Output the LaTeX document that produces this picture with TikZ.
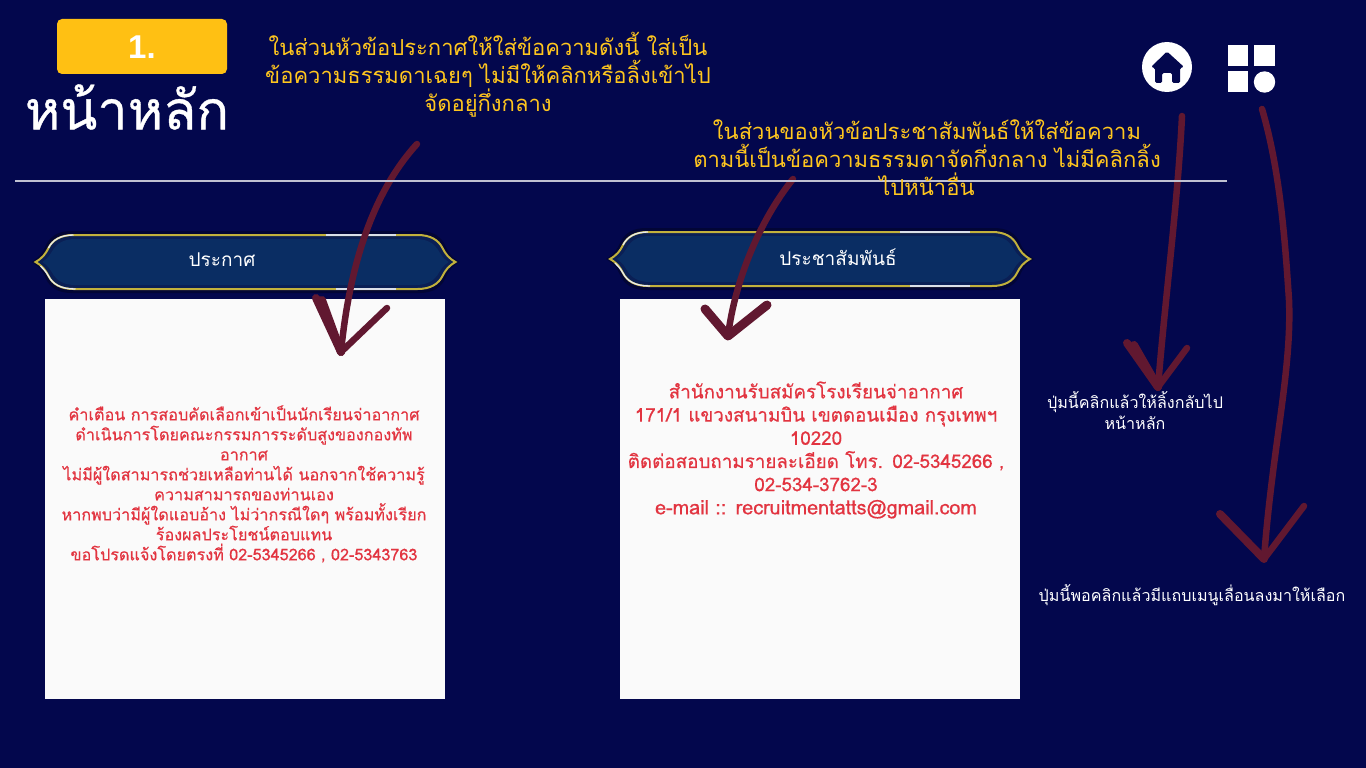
\documentclass[tikz,border=0pt]{standalone}
\usepackage{fontspec}
\setmainfont{Liberation Sans}
\newfontfamily\thaifont[Script=Thai]{Loma}
\newfontfamily\thaiheavy[Script=Thai,FakeBold=0.6]{Loma}
\newfontfamily\thaimedium[Script=Thai,FakeBold=0.5]{Loma}
\usetikzlibrary{positioning}
\definecolor{pagenavy}{HTML}{03074D}
\definecolor{bannerblue}{HTML}{0A2D63}
\definecolor{bannerrim}{HTML}{0A1F55}
\definecolor{bannergold}{HTML}{C2B13C}
\definecolor{tabyellow}{HTML}{FFC013}
\definecolor{noteyellow}{HTML}{FFC61E}
\definecolor{cardred}{HTML}{E23440}
\definecolor{scrawlred}{HTML}{611830}
\tikzset{
  bannerframe/.pic={
    \fill[black!30!pagenavy] (-214,0) .. controls (-206,-5) and (-203,-9) .. (-200,-16) .. controls (-196,-25) and (-188,-31) .. (-174,-31)
      -- (174,-31) .. controls (188,-31) and (196,-25) .. (200,-16) .. controls (203,-9) and (206,-5) .. (214,0)
      .. controls (206,5) and (203,9) .. (200,16) .. controls (196,25) and (188,31) .. (174,31)
      -- (-174,31) .. controls (-188,31) and (-196,25) .. (-200,16) .. controls (-203,9) and (-206,5) .. (-214,0) -- cycle;
    \draw[bannergold,line width=2pt,fill=bannerrim] (-210,0) .. controls (-203,-4) and (-200,-8) .. (-197,-14) .. controls (-193,-22) and (-185,-27) .. (-172,-27)
      -- (172,-27) .. controls (185,-27) and (193,-22) .. (197,-14) .. controls (200,-8) and (203,-4) .. (210,0)
      .. controls (203,4) and (200,8) .. (197,14) .. controls (193,22) and (185,27) .. (172,27)
      -- (-172,27) .. controls (-185,27) and (-193,22) .. (-197,14) .. controls (-200,8) and (-203,4) .. (-210,0) -- cycle;
    \fill[bannerblue] (-203,0) .. controls (-197,-4) and (-195,-8) .. (-192,-13) .. controls (-188,-19) and (-181,-23) .. (-170,-23)
      -- (170,-23) .. controls (181,-23) and (188,-19) .. (192,-13) .. controls (195,-8) and (197,-4) .. (203,0)
      .. controls (197,4) and (195,8) .. (192,13) .. controls (188,19) and (181,23) .. (170,23)
      -- (-170,23) .. controls (-181,23) and (-188,19) .. (-192,13) .. controls (-195,8) and (-197,4) .. (-203,0) -- cycle;
    \draw[white!90!bannerblue,line width=1.3pt] (-197,-14) .. controls (-193,-22) and (-185,-27) .. (-172,-27);
    \draw[white!90!bannerblue,line width=1.3pt] (-205,4) .. controls (-202,7) and (-200,9) .. (-197,14) .. controls (-193,22) and (-185,27) .. (-170,27);
    \draw[white!85!bannerblue,line width=1.3pt] (80,-27) -- (150,-27);
    \draw[white!85!bannerblue,line width=1.3pt] (90,27) -- (150,27);
  },
  tab/.style={fill=tabyellow,rounded corners=5pt,minimum width=170pt,minimum height=55pt,inner sep=0pt},
  bannertext/.style={text=white,font=\thaifont\fontsize{19}{23}\selectfont},
  note/.style={text=noteyellow,align=center,font=\thaifont\fontsize{22}{28}\selectfont},
  hint/.style={text=white,align=center,font=\thaifont\fontsize{16.1}{21}\selectfont},
  card/.style={fill=white!98!black,minimum width=400pt,minimum height=400pt,inner sep=0pt},
  cardtext/.style={text=cardred,align=center,text width=400pt},
  scrawl/.style={scrawlred,line width=6.5pt,line cap=round,line join=round},
}
\begin{document}
\begin{tikzpicture}[x=1pt,y=-1pt]
  \useasboundingbox (0,0) rectangle (1366,768);
  \fill[pagenavy] (0,0) rectangle (1366,768);

  \node[tab] (numberTab) at (142,46.5) {};
  \node[text=white,font=\bfseries\fontsize{33}{36}\selectfont] (numberText) at (142,47) {1.};
  \node[text=white,font=\thaiheavy\fontsize{54}{58}\selectfont] (pageTitle) at (127,107) {หน้าหลัก};

  % banners and cards
  \pic at (245.5,262) {bannerframe};
  \pic at (820,259) {bannerframe};
  \node[bannertext] (noticeHead) at (222,260) {ประกาศ};
  \node[bannertext] (relationHead) at (838,257) {ประชาสัมพันธ์};
  \node[card] (noticeCard) at (245,499) {};
  \node[card] (relationCard) at (820,499) {};
  \node[cardtext,font=\thaimedium\fontsize{16.2}{20}\selectfont] (noticeText) at (244,484) {คำเตือน การสอบคัดเลือกเข้าเป็นนักเรียนจ่าอากาศ\\
    ดำเนินการโดยคณะกรรมการระดับสูงของกองทัพ\\
    อากาศ\\
    ไม่มีผู้ใดสามารถช่วยเหลือท่านได้ นอกจากใช้ความรู้\\
    ความสามารถของท่านเอง\\
    หากพบว่ามีผู้ใดแอบอ้าง ไม่ว่ากรณีใดๆ พร้อมทั้งเรียก\\
    ร้องผลประโยชน์ตอบแทน\\
    ขอโปรดแจ้งโดยตรงที่ 02-5345266 , 02-5343763};
  \node[cardtext,font=\thaimedium\fontsize{18.8}{23.2}\selectfont] (relationText) at (816,450) {สำนักงานรับสมัครโรงเรียนจ่าอากาศ\\
    171/1 แขวงสนามบิน เขตดอนเมือง กรุงเทพฯ\\
    10220\\
    ติดต่อสอบถามรายละเอียด โทร. 02-5345266 ,\\
    02-534-3762-3\\
    {\fontsize{19.8}{23.2}\selectfont e-mail :: recruitmentatts@gmail.com}};

  % top right icons
  \fill[white] (1167,67) circle (25);
  \fill[pagenavy,rounded corners=1.5pt] (1167,51.5) -- (1184,67) -- (1180,68) -- (1180,83) -- (1172,83) -- (1172,73) -- (1162,73) -- (1162,83) -- (1155,83) -- (1155,68) -- (1151,67) -- cycle;
  \fill[white] (1227.5,45) rectangle (1248,66);
  \fill[white] (1254,45) rectangle (1275,66);
  \fill[white] (1227.5,71.5) rectangle (1248,92.5);
  \fill[white] (1264.5,82) circle (10.7);

  % hand drawn arrows
  \coordinate (noticeTail) at (417,144);
  \coordinate (noticeTip) at (341,352);
  \coordinate (noticeLeft) at (316,298);
  \coordinate (noticeLeftB) at (322,300);
  \coordinate (noticeRight) at (387,308);
  \coordinate (relationTail) at (793,179);
  \coordinate (relationTip) at (728,336);
  \coordinate (relationLeft) at (705,309);
  \coordinate (relationRight) at (767,305);
  \coordinate (homeTail) at (1182,116);
  \coordinate (homeTip) at (1158,387);
  \coordinate (homeLeft) at (1127,343);
  \coordinate (homeLeftB) at (1134,345);
  \coordinate (homeRight) at (1187,348);
  \coordinate (menuTail) at (1262,109);
  \coordinate (menuBend) at (1289,300);
  \coordinate (menuTip) at (1264,559);
  \coordinate (menuLeft) at (1220,514);
  \coordinate (menuRight) at (1304,506);
  \draw[scrawl] (noticeTail) .. controls (375,190) and (350,260) .. (noticeTip);
  \draw[scrawl,line width=8pt] (noticeLeft) -- (noticeTip);
  \draw[scrawl,line width=8pt] (noticeLeftB) -- (noticeTip);
  \draw[scrawl] (noticeTip) -- (noticeRight);
  \draw[scrawl] (relationTail) .. controls (760,220) and (735,280) .. (relationTip);
  \draw[scrawl,line width=9pt] (relationLeft) -- (relationTip) -- (relationRight);
  \draw[scrawl] (homeTail) .. controls (1178,200) and (1165,300) .. (homeTip);
  \draw[scrawl,line width=8pt] (homeLeft) -- (homeTip);
  \draw[scrawl,line width=8pt] (homeLeftB) -- (homeTip);
  \draw[scrawl] (homeTip) -- (homeRight);
  \draw[scrawl] (menuTail) .. controls (1280,170) and (1285,240) .. (menuBend) .. controls (1292,370) and (1272,450) .. (menuTip);
  \draw[scrawl,line width=8pt] (menuLeft) -- (menuTip);
  \draw[scrawl] (menuTip) -- (menuRight);

  \coordinate (ruleStart) at (15,181);
  \coordinate (ruleEnd) at (1227,181);
  \draw[color=white!75!pagenavy,line width=1.2pt] (ruleStart) -- (ruleEnd);

  \node[note] (noticeNote) at (488,75) {ในส่วนหัวข้อประกาศให้ใส่ข้อความดังนี้ ใส่เป็น\\
    ข้อความธรรมดาเฉยๆ ไม่มีให้คลิกหรือลิ้งเข้าไป\\
    จัดอยู่กึ่งกลาง};
  \node[note] (relationNote) at (927,158) {ในส่วนของหัวข้อประชาสัมพันธ์ให้ใส่ข้อความ\\
    ตามนี้เป็นข้อความธรรมดาจัดกึ่งกลาง ไม่มีคลิกลิ้ง\\
    ไปหน้าอื่น};
  \node[hint] (homeHint) at (1135,411) {ปุ่มนี้คลิกแล้วให้ลิ้งกลับไป\\หน้าหลัก};
  \node[hint] (menuHint) at (1192,595) {ปุ่มนี้พอคลิกแล้วมีแถบเมนูเลื่อนลงมาให้เลือก};
\end{tikzpicture}
\end{document}
